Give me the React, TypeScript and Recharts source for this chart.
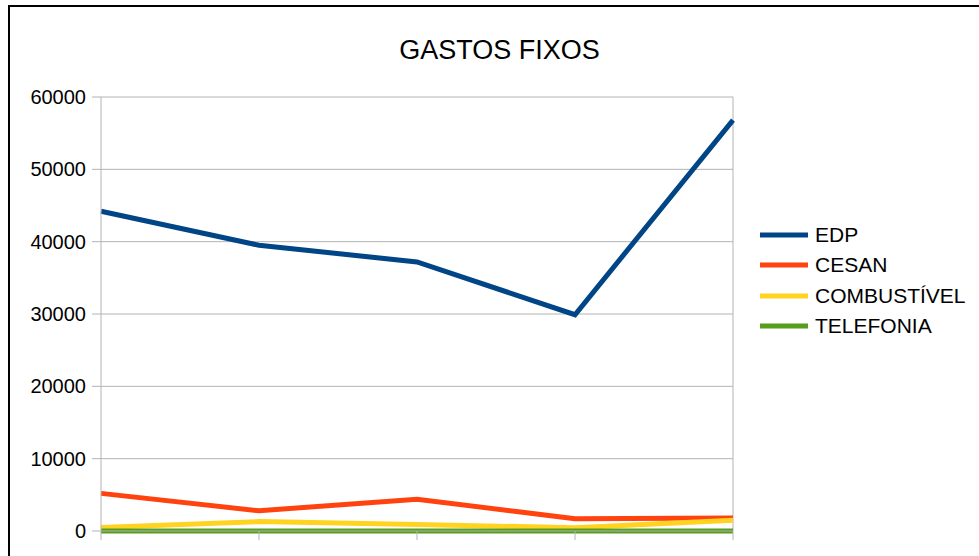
import React from 'react';
import { LineChart, Line, XAxis, YAxis, CartesianGrid, ReferenceLine } from 'recharts';

const categories = ['1', '2', '3', '4', '5'];
const edp = [44200, 39500, 37200, 29900, 56800];
const cesan = [5200, 2800, 4400, 1700, 1800];
const combustivel = [500, 1300, 900, 450, 1500];
const telefonia = [0, 0, 0, 0, 0];
const yTicks = [0, 10000, 20000, 30000, 40000, 50000, 60000];
const seriesNames = ['EDP', 'CESAN', 'COMBUSTÍVEL', 'TELEFONIA'];
const seriesColors = ['#004586', '#ff420e', '#ffd320', '#579d1c'];
const title = 'GASTOS FIXOS';

const data = categories.map((c, i) => ({
  cat: c,
  EDP: edp[i],
  CESAN: cesan[i],
  'COMBUSTÍVEL': combustivel[i],
  TELEFONIA: telefonia[i],
}));

const FONT = '"Liberation Sans", Arial, sans-serif';

const LegendBox = () => (
  <div
    style={{
      position: 'absolute',
      left: 760,
      top: 220,
      width: 219,
      fontFamily: FONT,
      fontSize: 21,
      color: '#000',
    }}
  >
    {seriesNames.map((n, i) => (
      <div key={n} style={{ display: 'flex', alignItems: 'center', height: 30.3 }}>
        <svg width={48} height={6} style={{ display: 'block', flex: 'none' }}>
          <line x1={0} y1={3} x2={48} y2={3} stroke={seriesColors[i]} strokeWidth={5} />
        </svg>
        <span style={{ marginLeft: 7, lineHeight: '30px', whiteSpace: 'nowrap' }}>{n}</span>
      </div>
    ))}
  </div>
);

const EmptyTick = () => <g />;

export default function App() {
  return (
    <div style={{ position: 'fixed', left: 0, top: 0, width: 979, height: 556, overflow: 'hidden', background: '#fff' }}>
      <div
        style={{
          position: 'absolute',
          left: 8,
          top: 5,
          width: 1000,
          height: 700,
          border: '2px solid #000',
          boxSizing: 'border-box',
        }}
      />
      <div
        style={{
          position: 'absolute',
          left: 0,
          width: 999,
          top: 34,
          textAlign: 'center',
          fontFamily: FONT,
          fontSize: 27,
          lineHeight: '32px',
          color: '#000',
        }}
      >
        {title}
      </div>
      <div style={{ position: 'absolute', left: 0, top: 0 }}>
        <LineChart
          width={979}
          height={556}
          data={data}
          margin={{ top: 97, right: 246, bottom: 0, left: 0 }}
        >
          <CartesianGrid vertical={false} stroke="#b3b3b3" />
          <XAxis
            dataKey="cat"
            height={25}
            tick={EmptyTick}
            tickSize={9}
            stroke="#b3b3b3"
            tickLine={{ stroke: '#b3b3b3' }}
            axisLine={{ stroke: '#b3b3b3' }}
          />
          <YAxis
            width={101}
            domain={[0, 60000]}
            ticks={yTicks}
            interval={0}
            tickSize={9}
            tickMargin={6}
            stroke="#b3b3b3"
            tick={{ fill: '#000', fontSize: 20, fontFamily: FONT }}
          />
          <ReferenceLine x="5" stroke="#b3b3b3" />
          {seriesNames.map((n, i) => (
            <Line
              key={n}
              dataKey={n}
              type="linear"
              stroke={seriesColors[i]}
              strokeWidth={5}
              dot={false}
              activeDot={false}
              isAnimationActive={false}
            />
          ))}
        </LineChart>
      </div>
      <LegendBox />
    </div>
  );
}
